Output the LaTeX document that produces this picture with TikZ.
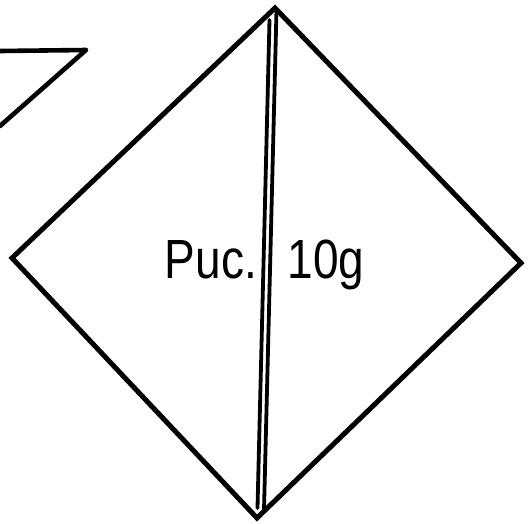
\documentclass[tikz,border=0pt]{standalone}
\usepackage{fontspec}
\setmainfont{Liberation Sans}
\begin{document}
\begin{tikzpicture}[x=1pt,y=-1pt,
  edge/.style={line width=5pt,line cap=round,line join=miter},
  strand/.style={line width=3.8pt,line cap=round},
  lbl/.style={font=\fontsize{46}{46}\selectfont,inner sep=0pt,anchor=base}]
\useasboundingbox (0,0) rectangle (531,523);
\fill[white] (0,0) rectangle (531,523);
% diamond vertices
\coordinate (T) at (275,8);
\coordinate (L) at (12,258);
\coordinate (R) at (521,263);
\coordinate (B) at (257,518);
\draw[edge] (T) -- (L) -- (B) -- (R) -- cycle;
% double vertical line
\coordinate (s1a) at (269.5,20);
\coordinate (s1b) at (257.5,508);
\coordinate (s2a) at (276.5,10);
\coordinate (s2b) at (264,510);
\draw[strand] (s1a) -- (s1b);
\draw[strand] (s2a) -- (s2b);
% corner at top left
\coordinate (c0) at (0,51);
\coordinate (c1) at (86,50);
\coordinate (c2) at (0,126);
\draw[line width=4.6pt] (c0) -- (c1);
\draw[line width=4.6pt,line cap=round] (c1) -- (c2);
% labels
\node[lbl] (puc) at (211,278) {\scalebox{1}[1.2]{Puc.}};
\node[lbl] (num) at (326,278) {\scalebox{1}[1.2]{10g}};
\end{tikzpicture}
\end{document}
